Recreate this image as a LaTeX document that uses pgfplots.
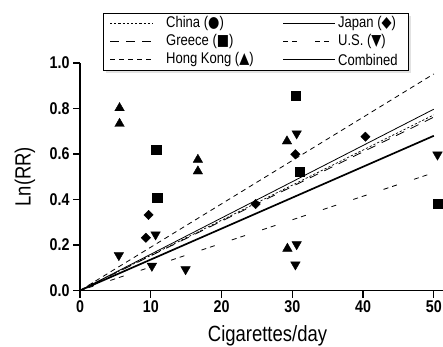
\documentclass[border=0pt]{standalone}
\usepackage{fontspec}
\setmainfont{Liberation Sans}
\newfontfamily\sym{DejaVu Sans}
\usepackage{graphicx}
\usepackage{pgfplots}
\pgfplotsset{compat=1.18}
\usetikzlibrary{shadows}
\newcommand{\cf}[1]{\scalebox{0.84}[1]{#1}}
\tikzset{
  chinaL/.style={black, line width=0.7pt, dash pattern=on 2.2pt off 2pt},
  japanL/.style={black, line width=0.8pt},
  greeceL/.style={black, line width=0.8pt, dash pattern=on 9pt off 7pt},
  usL/.style={black, line width=0.8pt, dash pattern=on 5pt off 4pt on 5pt off 18pt},
  hkL/.style={black, line width=0.8pt, dash pattern=on 5pt off 4pt},
  combL/.style={black, line width=1.7pt},
}
\begin{document}
\begin{tikzpicture}[x=1pt,y=1pt]
\begin{axis}[
  scale only axis, width=363pt, height=227.5pt,
  xmin=0, xmax=51.3, ymin=0, ymax=1,
  axis x line=bottom, axis y line=left,
  axis line style={-, line width=1.3pt},
  tick align=outside, major tick length=7pt,
  tick style={line width=1.1pt, black},
  xtick={0,10,20,30,40,50}, ytick={0,0.2,0.4,0.6,0.8,1.0},
  xticklabel={\cf{\pgfmathprintnumber[assume math mode=true]{\tick}}},
  yticklabel={\cf{\pgfmathprintnumber[assume math mode=true,fixed,fixed zerofill,precision=1]{\tick}}},
  ticklabel style={font=\fontsize{17}{17}\selectfont\bfseries},
  xlabel={\cf{Cigarettes/day}}, ylabel={\cf{Ln(RR)}},
  label style={font=\fontsize{22}{22}\selectfont},
  xlabel style={at={(axis description cs:0.5165,-0.2)}, anchor=center},
  ylabel style={at={(axis description cs:-0.1515,0.5)}, anchor=center},
  clip=false,
]
% regression lines
\addplot[chinaL] coordinates {(0,0) (50,0.772)};
\addplot[japanL] coordinates {(0,0) (50,0.797)};
\addplot[greeceL] coordinates {(0,0) (50,0.762)};
\addplot[usL] coordinates {(0,0) (50,0.518)};
\addplot[hkL] coordinates {(0,0) (50,0.952)};
\addplot[combL] coordinates {(0,0) (50,0.680)};
% Hong Kong
\addplot[only marks, mark=triangle*, mark size=5.5pt, black] coordinates {
(5.59,0.802) (5.59,0.733) (16.66,0.575) (16.66,0.524) (29.25,0.656) (29.31,0.184)};
% U.S.
\addplot[only marks, mark=triangle*, mark options={rotate=180}, mark size=5.5pt, black] coordinates {
(10.68,0.246) (5.49,0.155) (10.16,0.108) (14.92,0.093) (30.62,0.690) (30.62,0.203) (30.44,0.114) (50.52,0.597)};
% Greece
\addplot[only marks, mark=square*, mark size=4.6pt, black] coordinates {
(10.78,0.618) (10.92,0.408) (30.52,0.855) (31.05,0.521) (50.52,0.380)};
% Japan
\addplot[only marks, mark=square*, mark options={rotate=45}, mark size=3.3pt, black] coordinates {
(9.69,0.332) (9.31,0.232) (24.82,0.380) (30.44,0.599) (40.34,0.676)};
% China
\addplot[only marks, mark=*, mark size=1.8pt, black] coordinates {(1.8,0.027)};
\end{axis}
% legend
\draw[line width=0.8pt, fill=white, drop shadow={shadow xshift=3pt, shadow yshift=-3pt, fill=gray!45}]
  (23,220.5) rectangle (328,277.5);
\begin{scope}[every node/.style={anchor=west, inner sep=0pt, font=\fontsize{15.5}{16}\selectfont}]
\draw[chinaL] (30,267) -- (73,267);   \node at (86,267) {\cf{China ({\sym ●})}};
\draw[greeceL] (30,249) -- (73,249);  \node at (86,249) {\cf{Greece ({\sym ■})}};
\draw[hkL] (30,231) -- (73,231);      \node at (86,231) {\cf{Hong Kong ({\sym ▲})}};
\draw[japanL] (203,267) -- (255,267); \node at (258,267) {\cf{Japan ({\sym ◆})}};
\draw[usL] (203,249) -- (255,249);    \node at (258,249) {\cf{U.S. ({\sym ▼})}};
\draw[combL] (203,231) -- (255,231);  \node at (258,231) {\cf{Combined}};
\end{scope}
\pgfresetboundingbox
\path[use as bounding box] (-80pt,-55.5pt) rectangle (363pt,290.5pt);
\end{tikzpicture}
\end{document}
